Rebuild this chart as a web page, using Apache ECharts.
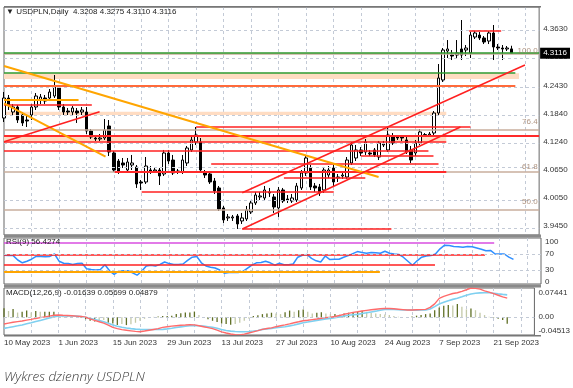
<!DOCTYPE html>
<html><head><meta charset="utf-8">
<script src="https://cdn.jsdelivr.net/npm/echarts@6/dist/echarts.min.js"></script>
<style>html,body{margin:0;padding:0;background:#fff}#c{width:573px;height:388px}</style>
</head><body><div id="c"></div>
<script>
// ---------- data ----------
const dateLabels = ['10 May 2023','1 Jun 2023','15 Jun 2023','29 Jun 2023','13 Jul 2023','27 Jul 2023','10 Aug 2023','24 Aug 2023','7 Sep 2023','21 Sep 2023'];
const priceTicks = [4.3630,4.3030,4.2430,4.1840,4.1240,4.0650,4.0050,3.9450];
const rsiTicks = [100,70,30,0];
const macdTicks = [0.07441,0,-0.04513];

const open = [4.1741,4.2166,4.1869,4.1975,4.1805,4.1699,4.1805,4.1975,4.2124,4.2166,
4.2166,4.2208,4.2378,4.1975,4.1890,4.1869,4.1890,4.1869,4.1869,4.1466,
4.1317,4.1296,4.1317,4.1572,4.0999,4.0829,4.0787,4.0638,4.0744,4.0702,
4.0384,4.0384,4.0638,4.0617,4.0638,4.0554,4.0999,4.0850,4.0596,4.0596,
4.0787,4.1063,4.1232,4.1232,4.0596,4.0554,4.0405,4.0257,3.9833,3.9621,
3.9621,3.9663,3.9557,3.9599,3.9748,3.9939,4.0066,4.0045,4.0151,4.0066,
3.9833,4.0214,4.0023,3.9981,4.0002,4.0257,4.0575,4.0681,4.0299,4.0278,
4.0214,4.0532,4.0681,4.0469,4.0511,4.0490,4.0787,4.0893,4.1063,4.1020,
4.0999,4.1063,4.0914,4.1169,4.1063,4.1339,4.1339,4.1339,4.1275,4.1063,
4.0999,4.1211,4.1381,4.1381,4.1423,4.1848,4.2548,4.3163,4.3078,4.3078,
4.3206,4.3184,4.3121,4.3460,4.3502,4.3439,4.3375,4.3545,4.3248,4.3227,
4.3206,4.3208];
const close = [4.2166,4.2017,4.1975,4.1699,4.1636,4.1678,4.1975,4.2208,4.2187,4.2102,
4.2293,4.2399,4.1975,4.1869,4.1869,4.1954,4.1848,4.1911,4.1466,4.1339,
4.1296,4.1317,4.1487,4.1020,4.0638,4.0617,4.0744,4.0808,4.0787,4.0342,
4.0363,4.0723,4.0617,4.0638,4.0511,4.0999,4.0829,4.0575,4.0617,4.0850,
4.1105,4.1275,4.1381,4.0638,4.0532,4.0384,4.0193,3.9811,3.9578,3.9642,
3.9642,3.9493,3.9621,3.9790,3.9939,4.0108,4.0087,4.0214,4.0172,3.9854,
4.0214,3.9981,4.0002,4.0045,4.0299,4.0575,4.0893,4.0278,4.0257,4.0151,
4.0638,4.0638,4.0384,4.0490,4.0532,4.0850,4.1169,4.1063,4.0999,4.1232,
4.0978,4.0957,4.1211,4.1190,4.1381,4.1211,4.1317,4.1317,4.1020,4.0850,
4.1211,4.1445,4.1390,4.1402,4.1848,4.2590,4.3184,4.3206,4.3057,4.3121,
4.3078,4.3227,4.3502,4.3545,4.3439,4.3354,4.3545,4.3248,4.3227,4.3206,
4.3227,4.3116];
const low = [4.1657,4.1911,4.1784,4.1636,4.1572,4.1551,4.1699,4.1911,4.2039,4.2039,
4.2102,4.2166,4.1911,4.1805,4.1805,4.1784,4.1636,4.1805,4.1402,4.1296,
4.1254,4.1254,4.1275,4.0935,4.0596,4.0554,4.0681,4.0596,4.0638,4.0257,
4.0214,4.0342,4.0554,4.0575,4.0320,4.0511,4.0766,4.0532,4.0554,4.0554,
4.0723,4.1020,4.1169,4.0596,4.0469,4.0342,4.0129,3.9769,3.9514,3.9557,
3.9557,3.9387,3.9493,3.9557,3.9705,3.9896,4.0002,4.0002,4.0066,3.9727,
3.9642,3.9939,3.9939,3.9939,3.9960,4.0214,4.0511,4.0214,4.0172,4.0087,
4.0151,4.0469,4.0299,4.0384,4.0448,4.0448,4.0744,4.0829,4.0935,4.0957,
4.0935,4.0914,4.0850,4.1126,4.1020,4.1169,4.1275,4.1254,4.0978,4.0787,
4.0935,4.1169,4.1339,4.1339,4.1360,4.1805,4.2505,4.3015,4.2972,4.3015,
4.2972,4.3057,4.3015,4.3418,4.3396,4.3311,4.3311,4.2972,4.3184,4.2972,
4.3163,4.3110];
const high = [4.2293,4.2230,4.2039,4.2017,4.1869,4.1784,4.2039,4.2272,4.2251,4.2230,
4.2357,4.2654,4.2442,4.2039,4.1954,4.1996,4.1954,4.1975,4.1975,4.1508,
4.1381,4.1402,4.1720,4.1699,4.1041,4.0872,4.0893,4.0893,4.0957,4.0744,
4.0426,4.0914,4.0723,4.0681,4.0681,4.1063,4.1063,4.0957,4.0660,4.0957,
4.1148,4.1339,4.1551,4.1317,4.0638,4.0617,4.0469,4.0299,3.9875,3.9705,
3.9684,3.9705,3.9727,3.9875,4.0002,4.0172,4.0172,4.0299,4.0257,4.0129,
4.0278,4.0257,4.0108,4.0129,4.0363,4.0638,4.0957,4.0744,4.0363,4.0342,
4.0702,4.0723,4.0744,4.0554,4.0596,4.0914,4.1232,4.1169,4.1126,4.1296,
4.1063,4.1105,4.1254,4.1254,4.1551,4.1423,4.1381,4.1381,4.1360,4.1148,
4.1275,4.1508,4.1423,4.1445,4.1890,4.2887,4.3227,4.3396,4.3184,4.3396,
4.3821,4.3290,4.3566,4.3587,4.3566,4.3481,4.3587,4.3715,4.3311,4.3290,
4.3269,4.3275];

const rsi = [67,66,66,55,48,52,57,64,64,63,
64,70,52,47,46,44,46,47,33,31,
30,31,43,28,19,27,28,28,23,17,
27,40,42,40,44,50,46,44,44,45,
54,62,64,48,40,37,35,30,22,24,
24,24,26,34,42,48,49,52,48,42,
47,43,43,45,62,67,69,59,53,50,
65,56,57,57,62,66,71,76,74,72,
74,73,72,77,72,70,69,62,52,42,
53,62,65,66,70,83,92,91,89,88,
87,89,88,85,82,78,79,70,70,70,
62,56.4274];

const macdMain = [-0.0173,-0.0150,-0.0128,-0.0110,-0.0095,-0.0072,-0.0053,-0.0030,-0.0010,0.0010,
0.0030,0.0050,0.0056,0.0050,0.0045,0.0040,0.0030,0.0018,0.0000,-0.0040,
-0.0080,-0.0115,-0.0150,-0.0200,-0.0257,-0.0290,-0.0315,-0.0330,-0.0345,-0.0360,
-0.0369,-0.0350,-0.0330,-0.0310,-0.0290,-0.0257,-0.0240,-0.0225,-0.0215,-0.0205,
-0.0198,-0.0190,-0.0195,-0.0215,-0.0240,-0.0265,-0.0290,-0.0326,-0.0370,-0.0400,
-0.0425,-0.0445,-0.0451,-0.0430,-0.0400,-0.0370,-0.0340,-0.0308,-0.0285,-0.0270,
-0.0240,-0.0215,-0.0195,-0.0170,-0.0140,-0.0115,-0.0089,-0.0075,-0.0060,-0.0045,
-0.0025,-0.0010,0.0000,0.0020,0.0045,0.0075,0.0100,0.0125,0.0140,0.0160,
0.0175,0.0190,0.0205,0.0218,0.0226,0.0222,0.0215,0.0205,0.0195,0.0183,
0.0185,0.0190,0.0195,0.0201,0.0250,0.0340,0.0481,0.0530,0.0570,0.0605,
0.0623,0.0660,0.0700,0.0744,0.0735,0.0715,0.0670,0.0640,0.0600,0.0560,
0.0520,0.04879];
const macdSignal = [-0.0282,-0.0262,-0.0240,-0.0218,-0.0195,-0.0165,-0.0140,-0.0110,-0.0080,-0.0050,
-0.0020,0.0010,0.0031,0.0035,0.0035,0.0033,0.0028,0.0020,0.0000,-0.0025,
-0.0055,-0.0085,-0.0115,-0.0150,-0.0198,-0.0230,-0.0255,-0.0275,-0.0290,-0.0302,
-0.0308,-0.0312,-0.0313,-0.0312,-0.0310,-0.0308,-0.0295,-0.0280,-0.0262,-0.0245,
-0.0228,-0.0216,-0.0212,-0.0215,-0.0225,-0.0240,-0.0255,-0.0282,-0.0310,-0.0335,
-0.0352,-0.0362,-0.0369,-0.0368,-0.0362,-0.0350,-0.0335,-0.0308,-0.0295,-0.0282,
-0.0268,-0.0255,-0.0242,-0.0220,-0.0195,-0.0168,-0.0140,-0.0120,-0.0100,-0.0080,
-0.0060,-0.0042,-0.0028,-0.0010,0.0010,0.0030,0.0050,0.0065,0.0074,0.0095,
0.0115,0.0135,0.0155,0.0180,0.0201,0.0200,0.0196,0.0192,0.0188,0.0183,
0.0182,0.0182,0.0183,0.0183,0.0210,0.0270,0.0336,0.0380,0.0420,0.0455,
0.0481,0.0520,0.0560,0.0590,0.0610,0.0620,0.0625,0.0623,0.0610,0.0595,
0.0582,0.05699];
const macdHist = [0.0226,0.016,0.021,0.012,0.014,0.017,0.012,0.016,0.014,0.014,
0.014,0.014,0.006,0.004,0.003,0.002,0.000,-0.001,-0.005,-0.009,
-0.011,-0.010,-0.007,-0.014,-0.016,-0.020,-0.017,-0.020,-0.018,-0.014,
-0.009,-0.004,-0.002,0.001,0.002,0.003,0.003,0.004,0.008,0.010,
0.012,0.012,0.0145,0.006,0.000,-0.005,-0.009,-0.012,-0.016,-0.017,
-0.019,-0.017,-0.014,-0.009,-0.003,0.003,0.005,0.008,0.0098,0.0115,
0.0098,0.008,0.013,0.017,0.014,0.018,0.020,0.014,0.0098,0.0115,
0.0125,0.0098,0.008,0.008,0.007,0.0098,0.0115,0.013,0.014,0.0166,
0.014,0.0115,0.0098,0.008,0.007,0.0056,0.003,0.0013,0.000,0.000,
0.002,0.004,0.0056,0.008,0.0098,0.018,0.025,0.029,0.031,0.030,
0.0336,0.027,0.020,0.022,0.018,0.0115,0.0056,0.001,-0.001,-0.004,
-0.007,-0.01639];

// drawn objects: [price, fromBar, toBar, style]
const levelLines = [
 [4.3135,0,117,'green'],[4.2711,0,111.8,'green'],[4.2435,0,111.8,'tomato'],
 [4.2138,0,16.3,'orange'],[4.2032,0,19.2,'red'],[4.1557,42,102,'red'],
 [4.1370,0,117,'redThick'],[4.1243,0,96.7,'red'],[4.1048,0,92.8,'red'],
 [4.0942,78,93.9,'red'],[4.0780,45.3,95,'red'],[4.0602,24.2,96.7,'redThick'],
 [4.0475,61.2,79,'red'],[4.0178,30.1,72.1,'red'],[3.9401,52.1,84.7,'red'],
 [4.3594,101.7,108.7,'red']
];
// [bar1, price1, bar2, price2, style]
const trendLines = [
 [0,4.2845,81.9,4.0490,'orange'],[0,4.2053,22.2,4.0920,'orange'],
 [0,4.1239,20.9,4.1876,'red'],[52.1,4.0156,113.9,4.2866,'red'],[52.1,3.9387,99.8,4.1551,'red']
];
// [priceTop, priceBottom, fromBar, toBar]
const zones = [[4.2690,4.2569,0,112.6],[4.1875,4.1805,0,96.7],[4.1349,4.1243,0,96.7]];
const fibLevels = [[4.3060,'100.0'],[4.1539,'76.4'],[4.0598,'61.8'],[3.9838,'50.0']];
const rsiLines = [[97,0,106.8,'magenta'],[67.5,0,104.8,'red'],[42.5,0,93.9,'red'],[25.75,0,81.9,'orange']];
const rsiLevels = [70,30];

// ---------- rendering ----------
const N = 118; // bar slots on the time axis
const cats = Array.from({length:N},(_,i)=>String(i));
const FONT = 'Liberation Sans, DejaVu Sans, sans-serif';
const styles = {
  red:{color:'#ff2020',width:1.5}, redThick:{color:'#ff2a2a',width:2.2},
  green:{color:'#2f9a2f',width:1.5}, orange:{color:'#ffa500',width:2},
  tomato:{color:'#ff6a3a',width:2}, magenta:{color:'#d94ee0',width:1.5}
};
const n = close.length;
const ohlcTxt = [open[n-1],high[n-1],low[n-1],close[n-1]].map(v=>v.toFixed(4)).join(' ');

const mainLines = [];
levelLines.forEach(([p,a,b,s])=>mainLines.push([{coord:[a,p],lineStyle:{color:styles[s].color,width:styles[s].width,type:'solid'}},{coord:[b,p]}]));
trendLines.forEach(([a,p1,b,p2,s])=>mainLines.push([{coord:[a,p1],lineStyle:{color:styles[s].color,width:styles[s].width,type:'solid'}},{coord:[b,p2]}]));
const fibLines = fibLevels.map(([p])=>({yAxis:p}));

const gridLineStyle = {color:'#c3cad6',type:[3,3],width:1};
function catAxis(g, showLabel){
  return {type:'category',gridIndex:g,data:cats,boundaryGap:false,
    axisLine:{show:false},axisTick:{show:false},
    axisLabel:showLabel?{show:true,interval:(i)=>i%12===0 && i/12<dateLabels.length,
      formatter:(v,i)=>dateLabels[Math.round(Number(v)/12)]||'',align:'left',margin:4,fontSize:8,color:'#333',fontFamily:FONT}:{show:false},
    splitLine:{show:true,interval:(i)=>i%6===0 && i>0,lineStyle:gridLineStyle}};
}
const option = {
  animation:false,
  backgroundColor:'#fff',
  title:[
    {text:'\u25BC USDPLN,Daily  '+ohlcTxt,left:6,top:8,padding:0,textStyle:{fontSize:8,fontWeight:'normal',color:'#222',fontFamily:FONT}},
    {text:'RSI(9) '+rsi[n-1].toFixed(4),left:6,top:238,padding:0,textStyle:{fontSize:8,fontWeight:'normal',color:'#222',fontFamily:FONT}},
    {text:'MACD(12,26,9) '+macdHist[n-1].toFixed(5)+' '+macdSignal[n-1].toFixed(5)+' '+macdMain[n-1].toFixed(5),left:6,top:289,padding:0,textStyle:{fontSize:8,fontWeight:'normal',color:'#222',fontFamily:FONT}},
    {text:'Wykres dzienny USDPLN',left:4,top:370,padding:0,textStyle:{fontSize:13.5,fontStyle:'italic',fontWeight:300,color:'#3a3a3a',fontFamily:'Open Sans, Lato, sans-serif'}}
  ],
  grid:[
    {left:4,top:7,width:537,height:228,show:true,borderColor:'#666',borderWidth:1},
    {left:4,top:238,width:537,height:46,show:true,borderColor:'#666',borderWidth:1},
    {left:4,top:288,width:537,height:47,show:true,borderColor:'#666',borderWidth:1}
  ],
  xAxis:[catAxis(0,false),catAxis(1,false),catAxis(2,true),
    {type:'value',gridIndex:0,min:0,max:N-1,show:false},
    {type:'value',gridIndex:1,min:0,max:N-1,show:false}],
  yAxis:[
    {type:'value',gridIndex:0,position:'right',min:3.9259,max:4.4097,splitLine:{show:false},axisLine:{show:false},axisTick:{show:false},
     axisLabel:{customValues:priceTicks,formatter:v=>Number(v).toFixed(4),fontSize:8,color:'#333',margin:4,fontFamily:FONT}},
    {type:'value',gridIndex:1,position:'right',min:-5,max:110,splitLine:{show:false},axisLine:{show:false},axisTick:{show:false},
     axisLabel:{customValues:rsiTicks,formatter:v=>String(Math.round(v)),fontSize:8,color:'#333',margin:4,fontFamily:FONT}},
    {type:'value',gridIndex:2,position:'right',min:-0.04513,max:0.07441,splitLine:{show:false},axisLine:{show:false},axisTick:{show:false},
     axisLabel:{customValues:macdTicks,fontSize:8,color:'#333',margin:4,fontFamily:FONT,
       formatter:v=>{v=Number(v); if(Math.abs(v)<1e-9) return '0.00'; return v>0?'{t|'+v.toFixed(5)+'}':'{b|'+v.toFixed(5)+'}';},
       rich:{t:{fontSize:8,color:'#333',fontFamily:FONT,padding:[9,0,0,0]},b:{fontSize:8,color:'#333',fontFamily:FONT,padding:[0,0,9,0]}}}},
    {type:'value',gridIndex:0,position:'right',min:3.9259,max:4.4097,splitLine:{show:false},axisLine:{show:false},axisTick:{show:false},z:20,
     axisLabel:{customValues:[close[n-1]],formatter:v=>Number(v).toFixed(4),fontSize:8,color:'#fff',backgroundColor:'#000',padding:[2,3,1,3],margin:1,fontFamily:FONT}}
  ],
  graphic:[
    {type:'rect',shape:{x:4,y:234.5,width:537,height:3},style:{fill:'#8a8a8a'},z:100},
    {type:'rect',shape:{x:4,y:284.5,width:537,height:3},style:{fill:'#8a8a8a'},z:100},
    {type:'rect',shape:{x:4,y:6,width:537,height:1.5},style:{fill:'#777'},z:100},
    {type:'rect',shape:{x:4,y:335,width:537,height:1.5},style:{fill:'#777'},z:100}
  ],
  series:[
    {type:'line',xAxisIndex:3,yAxisIndex:0,data:[],z:1,silent:true,
     markArea:{silent:true,itemStyle:{color:'#ffdcc2'},data:zones.map(([t,b,a,e])=>[{coord:[a,t]},{coord:[e,b]}])},
     markLine:{silent:true,symbol:['none','none'],label:{show:false},lineStyle:gridLineStyle,data:priceTicks.map(v=>({yAxis:v}))}},
    {type:'candlestick',xAxisIndex:0,yAxisIndex:0,z:2,barWidth:3,
     data:open.map((o,i)=>[o,close[i],low[i],high[i]]),
     itemStyle:{color:'#ffffff',color0:'#000000',borderColor:'#000000',borderColor0:'#000000',borderWidth:1}},
    {type:'line',xAxisIndex:3,yAxisIndex:0,data:[],z:3,silent:true,
     markLine:{silent:true,symbol:['none','none'],label:{show:false},lineStyle:{color:'#c9ae9c',width:1.5,type:'solid'},data:fibLines}},
    {type:'line',xAxisIndex:3,yAxisIndex:0,data:[],z:4,silent:true,
     markLine:{silent:true,symbol:['none','none'],label:{show:false},data:mainLines}},
    {type:'scatter',xAxisIndex:3,yAxisIndex:0,z:8,silent:true,symbolSize:1,itemStyle:{color:'rgba(0,0,0,0)'},clip:false,
     data:fibLevels.map(([p])=>[N-1,p]),
     label:{show:true,position:[-1,-9],align:'right',verticalAlign:'top',formatter:(pp)=>fibLevels[pp.dataIndex][1],color:'#9a7860',fontSize:8,fontFamily:FONT},
     labelLayout:{hideOverlap:false}},
    {type:'line',xAxisIndex:4,yAxisIndex:1,data:[],z:1,silent:true,
     markLine:{silent:true,symbol:['none','none'],label:{show:false},
       data:rsiLines.map(([v,a,b,s])=>[{coord:[a,v],lineStyle:{color:styles[s].color,width:styles[s].width,type:'solid'}},{coord:[b,v]}])
         .concat(rsiLevels.map(v=>({yAxis:v,lineStyle:gridLineStyle})))}},
    {type:'line',xAxisIndex:1,yAxisIndex:1,data:rsi,symbol:'none',z:3,lineStyle:{color:'#2f8fff',width:1.5}},
    {type:'bar',xAxisIndex:2,yAxisIndex:2,data:macdHist,barWidth:1.3,z:2,
     itemStyle:{color:(p)=>{const i=p.dataIndex;const prev=i>0?Math.abs(macdHist[i-1]):0;return Math.abs(macdHist[i])>=prev?'#5f6f25':'#c3c9a8';}},
     markLine:{silent:true,symbol:['none','none'],label:{show:false},lineStyle:gridLineStyle,data:[{yAxis:0}]}},
    {type:'line',xAxisIndex:2,yAxisIndex:2,data:macdSignal,symbol:'none',z:3,lineStyle:{color:'#7fd0f0',width:1.6}},
    {type:'line',xAxisIndex:2,yAxisIndex:2,data:macdMain,symbol:'none',z:4,lineStyle:{color:'#ff6a6a',width:1.4}}
  ]
};
const chart = echarts.init(document.getElementById('c'),null,{renderer:'canvas'});
chart.setOption(option);
</script></body></html>
